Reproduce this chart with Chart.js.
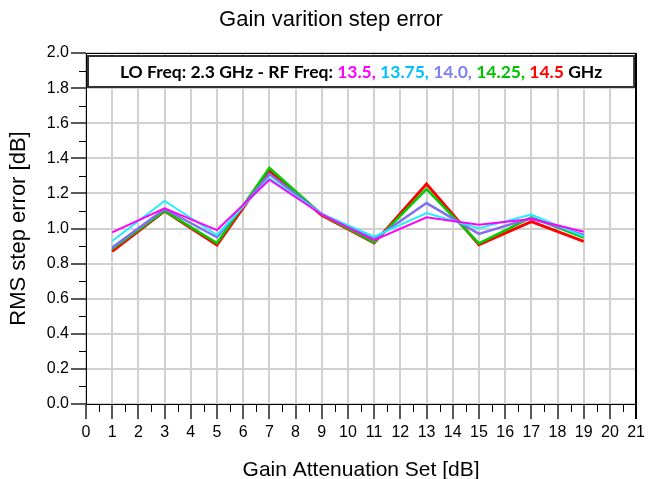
<!DOCTYPE html>
<html>
<head>
<meta charset="utf-8">
<script src="https://cdn.jsdelivr.net/npm/chart.js@4.4.0/dist/chart.umd.min.js"></script>
<style>
  html, body { margin: 0; padding: 0; background: #fff; }
  #gainChart { display: block; }
</style>
</head>
<body>
<canvas id="gainChart" width="649" height="479"></canvas>
<script>
// attenuation steps (dB) and RMS step error per RF frequency (dB)
const attenuation = [1, 3, 5, 7, 9, 11, 13, 15, 17, 19];
const rf13_5  = [0.978, 1.115, 0.991, 1.278, 1.080, 0.934, 1.064, 1.022, 1.054, 0.982];
const rf13_75 = [0.929, 1.157, 0.963, 1.288, 1.083, 0.953, 1.088, 1.001, 1.079, 0.955];
const rf14_0  = [0.891, 1.111, 0.950, 1.310, 1.083, 0.940, 1.145, 0.969, 1.060, 0.963];
const rf14_25 = [0.883, 1.100, 0.917, 1.345, 1.080, 0.921, 1.225, 0.915, 1.064, 0.948];
const rf14_5  = [0.870, 1.100, 0.906, 1.330, 1.075, 0.918, 1.254, 0.908, 1.039, 0.927];
const rfLabels = ['13.5', '13.75', '14.0', '14.25', '14.5'];

const rfSeries = [rf13_5, rf13_75, rf14_0, rf14_25, rf14_5];
const lineColors = ['#ff00ff', '#1ef0ff', '#8070f0', '#00cc00', '#ff0000'];
const textColors = ['#ff00ff', '#00c0ff', '#8080ee', '#00c000', '#ff0000'];
const lineWidths = [2, 2, 2.5, 2.5, 3];

const SANS = "'Liberation Sans', Arial, sans-serif";
const NARROW = "'Liberation Sans Narrow', 'Liberation Sans', Arial, sans-serif";

// minor ticks, top/right frame
const axisDecor = {
  id: 'axisDecor',
  afterDraw(chart) {
    const { ctx, chartArea: a, scales: { x, y } } = chart;
    ctx.save();
    ctx.strokeStyle = '#000';
    ctx.lineWidth = 1;
    ctx.beginPath();
    for (let v = 0.5; v < 21; v += 1) {
      const px = Math.round(x.getPixelForValue(v)) + 0.5;
      ctx.moveTo(px, a.bottom);
      ctx.lineTo(px, a.bottom + 8);
    }
    for (let v = 0.1; v < 2; v += 0.2) {
      const py = Math.round(y.getPixelForValue(v)) + 0.5;
      ctx.moveTo(a.left, py);
      ctx.lineTo(a.left - 7, py);
    }
    ctx.stroke();

    ctx.beginPath();
    ctx.moveTo(a.left, Math.round(a.top) + 0.5);
    ctx.lineTo(a.right, Math.round(a.top) + 0.5);
    ctx.stroke();
    ctx.lineWidth = 2;
    ctx.beginPath();
    ctx.moveTo(Math.round(a.right), a.top);
    ctx.lineTo(Math.round(a.right), a.bottom + 15);
    ctx.stroke();
    ctx.restore();
  }
};

// boxed caption with coloured frequency list
const freqCaption = {
  id: 'freqCaption',
  afterDatasetsDraw(chart) {
    const { ctx, chartArea: a } = chart;
    const bx = a.left + 2, by = a.top + 3;
    const bw = a.right - a.left - 4, bh = 31;
    ctx.save();
    ctx.fillStyle = '#fff';
    ctx.fillRect(bx, by, bw, bh);
    ctx.strokeStyle = '#333';
    ctx.lineWidth = 2;
    ctx.strokeRect(bx, by, bw, bh);

    const parts = [['LO Freq: 2.3 GHz - RF Freq: ', '#000']];
    rfLabels.forEach((f, i) => {
      parts.push([f + (i < rfLabels.length - 1 ? ', ' : ' '), textColors[i]]);
    });
    parts.push(['GHz', '#000']);

    ctx.font = "bold 17.5px Lato, 'Open Sans', sans-serif";
    ctx.textBaseline = 'middle';
    ctx.textAlign = 'left';
    const total = parts.reduce((s, p) => s + ctx.measureText(p[0]).width, 0);
    let tx = bx + bw / 2 - total / 2;
    const ty = by + bh / 2 + 1;
    parts.forEach(([t, c]) => {
      ctx.fillStyle = c;
      ctx.fillText(t, tx, ty);
      tx += ctx.measureText(t).width;
    });
    ctx.restore();
  }
};

const datasets = rfSeries.map((vals, i) => ({
  label: rfLabels[i] + ' GHz',
  data: attenuation.map((a, j) => ({ x: a, y: vals[j] })),
  borderColor: lineColors[i],
  backgroundColor: lineColors[i],
  borderWidth: lineWidths[i],
  pointRadius: 0,
  tension: 0,
  fill: false,
}));

new Chart(document.getElementById('gainChart'), {
  type: 'line',
  data: { datasets },
  options: {
    responsive: false,
    animation: false,
    layout: { padding: { left: 22, right: 9, top: 0, bottom: 0 } },
    plugins: {
      legend: { display: false },
      tooltip: { enabled: false },
      title: {
        display: true,
        text: 'Gain varition step error',
        color: '#000',
        font: { family: SANS, size: 22, weight: 'normal' },
        padding: { top: 7, bottom: 19.6 },
      },
    },
    scales: {
      x: {
        type: 'linear',
        min: 0,
        max: 21,
        afterFit: s => { s.height = 75; },
        ticks: {
          stepSize: 1,
          autoSkip: false,
          maxRotation: 0,
          padding: 4,
          color: '#000',
          font: { family: NARROW, size: 16 },
        },
        grid: {
          color: '#d0d0d0',
          lineWidth: 2,
          tickLength: 15,
          tickColor: '#222',
          tickWidth: 1.5,
        },
        border: { display: true, color: '#000', width: 1 },
        title: {
          display: true,
          text: 'Gain Attenuation Set [dB]',
          color: '#000',
          font: { family: SANS, size: 21, lineHeight: 0.85 },
          padding: 0,
        },
      },
      y: {
        min: 0,
        max: 2,
        afterFit: s => { s.width = 64; },
        ticks: {
          stepSize: 0.2,
          padding: 2,
          color: '#000',
          font: { family: NARROW, size: 16 },
          callback: v => v.toFixed(1),
        },
        grid: {
          color: '#d0d0d0',
          lineWidth: 2,
          tickLength: 15,
          tickColor: '#222',
          tickWidth: 1.5,
        },
        border: { display: true, color: '#000', width: 1 },
        title: {
          display: true,
          text: 'RMS step error [dB]',
          color: '#000',
          font: { family: SANS, size: 22 },
          padding: { top: -16, bottom: 0 },
        },
      },
    },
  },
  plugins: [freqCaption, axisDecor],
});
</script>
</body>
</html>
